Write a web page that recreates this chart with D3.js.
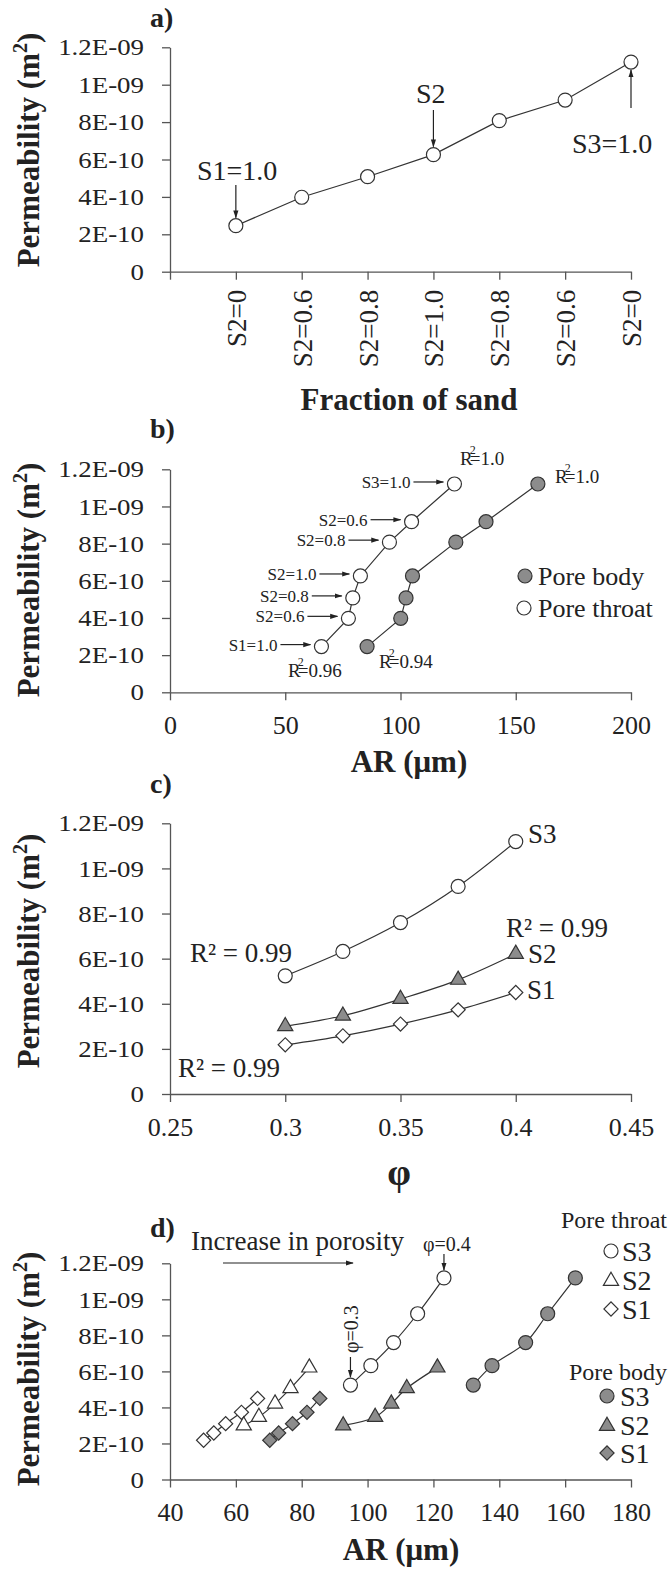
<!DOCTYPE html>
<html>
<head>
<meta charset="utf-8">
<script src="https://cdn.jsdelivr.net/npm/d3@7"></script>
<style>
  body { margin: 0; background: #fff; }
  svg text { font-family: "Liberation Serif", "Times New Roman", Times, "DejaVu Serif", serif; fill: #222; }
</style>
</head>
<body>
<svg id="fig" width="670" height="1570" style='font-family: "Liberation Serif", "Times New Roman", Times, "DejaVu Serif", serif'></svg>
<script>
// shared y axis
const yTicks = [0, 2e-10, 4e-10, 6e-10, 8e-10, 1e-9, 1.2e-9];
const yTickLabels = ['0', '2E-10', '4E-10', '6E-10', '8E-10', '1E-09', '1.2E-09'];

// a) permeability vs fraction of sand
const sandLabels = ['S2=0', 'S2=0.6', 'S2=0.8', 'S2=1.0', 'S2=0.8', 'S2=0.6', 'S2=0'];
const permSand = [2.46e-10, 3.98e-10, 5.08e-10, 6.26e-10, 8.08e-10, 9.18e-10, 1.121e-9];

// b) permeability vs AR, same samples as a)
const arThroatB = [65.7, 77.4, 79.3, 82.6, 95.2, 104.8, 123.4];
const arBodyB = [85.5, 100.1, 102.4, 105.2, 124.0, 137.1, 159.6];
const pointLabelsB = ['S1=1.0', 'S2=0.6', 'S2=0.8', 'S2=1.0', 'S2=0.8', 'S2=0.6', 'S3=1.0'];
const arTicksB = [0, 50, 100, 150, 200];
const arTickLabelsB = ['0', '50', '100', '150', '200'];

// c) permeability vs porosity
const porosity = [0.3, 0.325, 0.35, 0.375, 0.4];
const permS3 = [5.24e-10, 6.32e-10, 7.60e-10, 9.20e-10, 1.119e-9];
const permS2 = [3.00e-10, 3.47e-10, 4.21e-10, 5.06e-10, 6.21e-10];
const permS1 = [2.18e-10, 2.58e-10, 3.10e-10, 3.73e-10, 4.50e-10];
const phiTicks = [0.25, 0.3, 0.35, 0.4, 0.45];
const phiTickLabels = ['0.25', '0.3', '0.35', '0.4', '0.45'];

// d) permeability vs AR for each sand, porosity 0.3 -> 0.4
const arThroatS3 = [94.8, 101.0, 107.9, 115.2, 123.2];
const arThroatS2 = [62.4, 67.0, 71.9, 76.6, 82.3];
const arThroatS1 = [50.2, 53.3, 56.9, 61.7, 66.6];
const arBodyS3 = [132.1, 137.8, 148.0, 154.7, 163.1];
const arBodyS2 = [92.6, 102.3, 107.2, 111.9, 121.2];
const arBodyS1 = [70.3, 73.0, 77.2, 81.6, 85.5];
const arTicksD = [40, 60, 80, 100, 120, 140, 160, 180];
const arTickLabelsD = ['40', '60', '80', '100', '120', '140', '160', '180'];

const xLeft = 170;
const xRight = 631;
const panelTop = [47.3, 469.3, 823.3, 1263.3];
const panelBottom = [271.7, 692.3, 1094, 1479.5];
const axisColor = '#555';
const lineColor = '#333';
const grayFill = '#8c8c8c';
const markStroke = '#333';
const serif = '"Liberation Serif", "Times New Roman", Times, "DejaVu Serif", serif';

const svg = d3.select('#fig');
svg.append('rect').attr('width', 670).attr('height', 1570).attr('fill', '#fff');

svg.append('defs').append('marker')
  .attr('id', 'arrow')
  .attr('viewBox', '0 0 10 10')
  .attr('refX', 9)
  .attr('refY', 5)
  .attr('markerWidth', 8)
  .attr('markerHeight', 8)
  .attr('markerUnits', 'userSpaceOnUse')
  .attr('orient', 'auto')
  .append('path')
  .attr('d', 'M0,1.8L10,5L0,8.2z')
  .attr('fill', '#222');

const arrow = (x1, y1, x2, y2) => {
  svg.append('line')
    .attr('x1', x1).attr('y1', y1).attr('x2', x2).attr('y2', y2)
    .attr('stroke', '#222')
    .attr('stroke-width', 1.2)
    .attr('marker-end', 'url(#arrow)');
};

const label = (x, y, txt, size, opts) => {
  opts = opts || {};
  return svg.append('text')
    .attr('x', x)
    .attr('y', y)
    .attr('text-anchor', opts.anchor || 'start')
    .style('font-family', serif)
    .style('font-size', size + 'px')
    .style('font-weight', opts.bold ? 'bold' : 'normal')
    .text(txt);
};

const styleAxis = (ax) => {
  ax.attr('font-family', null);
  ax.selectAll('text').style('font-family', serif);
  ax.select('.domain').attr('stroke', axisColor).attr('stroke-width', 1.3);
  ax.selectAll('.tick line').attr('stroke', axisColor).attr('stroke-width', 1.3);
};

const makeY = (i) => d3.scaleLinear().domain([0, 1.2e-9]).range([panelBottom[i], panelTop[i]]);

const drawXAxis = (x, y, ticks, labels) => {
  const ax = svg.append('g')
    .attr('transform', 'translate(0,' + y.range()[0] + ')')
    .call(d3.axisBottom(x).tickValues(ticks).tickFormat((d, i) => labels[i]).tickSize(8).tickSizeOuter(0));
  ax.selectAll('.tick text').attr('y', 23.5).style('font-size', '26px');
  styleAxis(ax);
  return ax;
};

const drawYAxis = (y) => {
  const ax = svg.append('g')
    .attr('transform', 'translate(' + xLeft + ',0)')
    .call(d3.axisLeft(y).tickValues(yTicks).tickFormat((d, i) => yTickLabels[i]).tickSize(8).tickSizeOuter(0));
  ax.selectAll('.tick text')
    .attr('x', 0)
    .attr('dy', '0.32em')
    .attr('transform', 'translate(-26,0) scale(1.12,1)')
    .style('font-size', '24px');
  styleAxis(ax);
};

const yLabel = (cy) => {
  const t = svg.append('text')
    .attr('transform', 'translate(39,' + cy + ') rotate(-90)')
    .attr('text-anchor', 'middle')
    .style('font-family', serif)
    .style('font-size', '31px')
    .style('font-weight', 'bold')
    .text('Permeability (m');
  t.append('tspan').attr('dy', -12).style('font-size', '20px').text('2');
  t.append('tspan').attr('dy', 12).text(')');
};

const drawLine = (xs, ys, x, y, curve) => {
  svg.append('path')
    .datum(xs.map((d, i) => [d, ys[i]]))
    .attr('d', d3.line().x(d => x(d[0])).y(d => y(d[1])).curve(curve || d3.curveLinear))
    .attr('fill', 'none')
    .attr('stroke', lineColor)
    .attr('stroke-width', 1.2);
};

const symbolPath = {
  circle: d3.symbol().type(d3.symbolCircle).size(Math.PI * 49)(),
  triangle: d3.symbol().type(d3.symbolTriangle).size(100)(),
  diamond: d3.symbol().type(d3.symbolSquare).size(100)()
};

const drawMarks = (xs, ys, x, y, shape, fill) => {
  svg.append('g').selectAll('path')
    .data(xs)
    .join('path')
    .attr('d', symbolPath[shape])
    .attr('transform', (d, i) => 'translate(' + x(d) + ',' + y(ys[i]) + ')' + (shape === 'diamond' ? ' rotate(45)' : ''))
    .attr('fill', fill)
    .attr('stroke', markStroke)
    .attr('stroke-width', 1.2);
};

const legendMark = (cx, cy, shape, fill) => {
  svg.append('path')
    .attr('d', symbolPath[shape])
    .attr('transform', 'translate(' + cx + ',' + cy + ')' + (shape === 'diamond' ? ' rotate(45)' : ''))
    .attr('fill', fill)
    .attr('stroke', markStroke)
    .attr('stroke-width', 1.2);
};

// ---------- a) ----------
const ya = makeY(0);
const xa = d3.scaleLinear().domain([0, sandLabels.length]).range([xLeft, xRight]);
const axA = drawXAxis(xa, ya, d3.range(sandLabels.length + 1), [''].concat(sandLabels));
axA.selectAll('.tick text')
  .attr('transform', 'rotate(-90)')
  .attr('x', -18)
  .attr('y', 0)
  .attr('dy', '0.35em')
  .attr('text-anchor', 'end')
  .style('font-size', '27px');
drawYAxis(ya);
yLabel(150);
const idxA = sandLabels.map((d, i) => i + 1);
drawLine(idxA, permSand, xa, ya);
drawMarks(idxA, permSand, xa, ya, 'circle', '#fff');
label(150, 27, 'a)', 28, {bold: true});
label(197, 180, 'S1=1.0', 28);
arrow(xa(1), 185, xa(1), ya(permSand[0]) - 8);
label(416, 103, 'S2', 28);
arrow(xa(4), 110, xa(4), ya(permSand[3]) - 8);
label(572, 153, 'S3=1.0', 28);
arrow(xa(7), 108, xa(7), ya(permSand[6]) + 8);
label(409, 410, 'Fraction of sand', 31, {bold: true, anchor: 'middle'});

// ---------- b) ----------
const yb = makeY(1);
const xb = d3.scaleLinear().domain([0, 200]).range([xLeft, xRight]);
drawXAxis(xb, yb, arTicksB, arTickLabelsB);
drawYAxis(yb);
yLabel(580);
drawLine(arThroatB, permSand, xb, yb);
drawLine(arBodyB, permSand, xb, yb);
drawMarks(arBodyB, permSand, xb, yb, 'circle', grayFill);
drawMarks(arThroatB, permSand, xb, yb, 'circle', '#fff');
label(150, 438, 'b)', 28, {bold: true});
pointLabelsB.forEach((t, i) => {
  const ay = yb(permSand[i]) - 2;
  const ax2 = xb(arThroatB[i]) - 11;
  arrow(ax2 - 30, ay, ax2, ay);
  label(ax2 - 33, ay + 6, t, 17, {anchor: 'end'});
});
const rSquared = (x, y, val, size) => {
  const t = label(x, y, 'R', size);
  t.append('tspan').attr('dx', -3).attr('dy', -11).style('font-size', '12px').text('2');
  t.append('tspan').attr('dx', -6).attr('dy', 11).text('=' + val);
};
rSquared(460, 465, '1.0', 19);
rSquared(555, 483, '1.0', 19);
rSquared(288, 677, '0.96', 19);
rSquared(379, 668, '0.94', 19);
legendMark(525, 576, 'circle', grayFill);
label(538, 585, 'Pore body', 26);
legendMark(524, 608, 'circle', '#fff');
label(538, 617, 'Pore throat', 26);
label(409, 772, 'AR (\u03bcm)', 31, {bold: true, anchor: 'middle'});

// ---------- c) ----------
const yc = makeY(2);
const xc = d3.scaleLinear().domain([0.25, 0.45]).range([xLeft, xRight]);
drawXAxis(xc, yc, phiTicks, phiTickLabels);
drawYAxis(yc);
yLabel(951);
drawLine(porosity, permS3, xc, yc, d3.curveCatmullRom);
drawLine(porosity, permS2, xc, yc, d3.curveCatmullRom);
drawLine(porosity, permS1, xc, yc, d3.curveCatmullRom);
drawMarks(porosity, permS3, xc, yc, 'circle', '#fff');
drawMarks(porosity, permS2, xc, yc, 'triangle', grayFill);
drawMarks(porosity, permS1, xc, yc, 'diamond', '#fff');
label(150, 793, 'c)', 28, {bold: true});
label(528, 843, 'S3', 27);
label(506, 937, 'R\u00b2 = 0.99', 27);
label(528, 963, 'S2', 27);
label(527, 999, 'S1', 27);
label(190, 962, 'R\u00b2 = 0.99', 27);
label(178, 1077, 'R\u00b2 = 0.99', 27);
label(399, 1185, '\u03c6', 38, {bold: true, anchor: 'middle'});

// ---------- d) ----------
const yd = makeY(3);
const xd = d3.scaleLinear().domain([40, 180]).range([xLeft, xRight]);
drawXAxis(xd, yd, arTicksD, arTickLabelsD);
drawYAxis(yd);
yLabel(1369);
[arThroatS3, arThroatS2, arThroatS1].forEach((s, k) => drawLine(s, [permS3, permS2, permS1][k], xd, yd, d3.curveCatmullRom));
[arBodyS3, arBodyS2, arBodyS1].forEach((s, k) => drawLine(s, [permS3, permS2, permS1][k], xd, yd, d3.curveCatmullRom));
drawMarks(arThroatS1, permS1, xd, yd, 'diamond', '#fff');
drawMarks(arThroatS2, permS2, xd, yd, 'triangle', '#fff');
drawMarks(arThroatS3, permS3, xd, yd, 'circle', '#fff');
drawMarks(arBodyS1, permS1, xd, yd, 'diamond', grayFill);
drawMarks(arBodyS2, permS2, xd, yd, 'triangle', grayFill);
drawMarks(arBodyS3, permS3, xd, yd, 'circle', grayFill);
label(150, 1237, 'd)', 28, {bold: true});
label(191, 1250, 'Increase in porosity', 27);
arrow(223, 1263, 353, 1263);
label(423, 1251, '\u03c6=0.4', 20);
arrow(xd(arThroatS3[4]), 1254, xd(arThroatS3[4]), yd(permS3[4]) - 8);
svg.append('text')
  .attr('transform', 'translate(358,1353) rotate(-90)')
  .style('font-family', serif)
  .style('font-size', '20px')
  .text('\u03c6=0.3');
arrow(xd(arThroatS3[0]), 1357, xd(arThroatS3[0]), yd(permS3[0]) - 8);
label(667, 1228, 'Pore throat', 24, {anchor: 'end'});
legendMark(611, 1251, 'circle', '#fff');
label(622, 1261, 'S3', 28);
legendMark(611, 1281, 'triangle', '#fff');
label(622, 1290, 'S2', 28);
legendMark(611, 1309, 'diamond', '#fff');
label(622, 1319, 'S1', 28);
label(667, 1380, 'Pore body', 24, {anchor: 'end'});
legendMark(607, 1396, 'circle', grayFill);
label(620, 1406, 'S3', 28);
legendMark(607, 1426, 'triangle', grayFill);
label(620, 1435, 'S2', 28);
legendMark(607, 1453, 'diamond', grayFill);
label(620, 1463, 'S1', 28);
label(401, 1560, 'AR (\u03bcm)', 31, {bold: true, anchor: 'middle'});
</script>
</body>
</html>
